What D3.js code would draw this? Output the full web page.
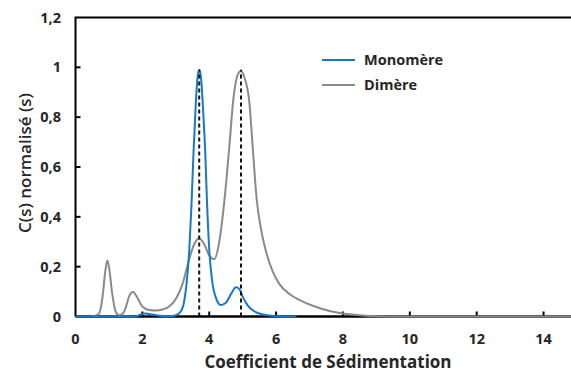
<!DOCTYPE html>
<html><head><meta charset="utf-8">
<script src="https://cdn.jsdelivr.net/npm/d3@7"></script>
<style>body{margin:0;background:#fff}svg{display:block}text{font-family:"Open Sans","Liberation Sans",sans-serif;font-weight:bold;fill:#262626}</style>
</head><body><svg id="c" width="571" height="374"></svg>
<script>
const xTicks = [0,2,4,6,8,10,12,14];
const yTicks = [0,0.2,0.4,0.6,0.8,1,1.2];
const yTickLabels = ["0","0,2","0,4","0,6","0,8","1","1,2"];
const seriesNames = ["Monomère","Dimère"];
const monoS = [0,1.8,1.95,2.1,2.3,2.5,2.8,3.0,3.15,3.25,3.32,3.4,3.47,3.53,3.6,3.66,3.71,3.76,3.82,3.88,3.93,4.0,4.08,4.2,4.35,4.5,4.65,4.8,4.9,5.0,5.15,5.3,5.5,5.8,6.2,6.6];
const monoC = [0,0,0.008,0.012,0.008,0.003,0.001,0.005,0.02,0.06,0.13,0.26,0.45,0.66,0.86,0.97,0.99,0.95,0.82,0.66,0.47,0.27,0.15,0.075,0.046,0.055,0.09,0.117,0.11,0.08,0.045,0.025,0.012,0.004,0.0,0.0];
const dimS = [0.5,0.7,0.8,0.9,0.95,1.0,1.1,1.2,1.3,1.4,1.5,1.6,1.72,1.85,2.0,2.2,2.4,2.6,2.8,3.0,3.2,3.4,3.55,3.7,3.85,4.0,4.15,4.3,4.45,4.6,4.72,4.85,4.95,5.05,5.2,5.3,5.42,5.55,5.7,5.9,6.1,6.4,6.8,7.2,7.6,8.0,8.5,9.0,9.5,15];
const dimC = [0,0.01,0.07,0.19,0.225,0.2,0.09,0.02,0.005,0.01,0.035,0.08,0.098,0.075,0.04,0.026,0.024,0.028,0.04,0.07,0.13,0.23,0.29,0.313,0.29,0.245,0.23,0.3,0.46,0.68,0.87,0.97,0.985,0.96,0.86,0.68,0.47,0.35,0.26,0.18,0.13,0.09,0.06,0.038,0.022,0.012,0.005,0.001,0,0];
const refLines = [3.7, 4.95];
const refVal = 0.99;

const svg = d3.select("#c");
const x = d3.scaleLinear().domain([0,15]).range([75.5,577]);
const y = d3.scaleLinear().domain([0,1.2]).range([316.5,17.5]);

svg.append("path").attr("d",`M${x(0)},${y(0)}V${y(1.2)}H571`).attr("fill","none").attr("stroke","#000").attr("stroke-width",2);
svg.append("line").attr("x1",x(0)).attr("x2",571).attr("y1",y(0)).attr("y2",y(0)).attr("stroke","#000").attr("stroke-width",2.5);

svg.selectAll(".yt").data(yTicks.slice(1,-1)).enter().append("line")
  .attr("x1",x(0)).attr("x2",x(0)+5).attr("y1",d=>y(d)).attr("y2",d=>y(d)).attr("stroke","#000").attr("stroke-width",2);
svg.selectAll(".xt").data(xTicks.slice(1)).enter().append("line")
  .attr("x1",d=>x(d)).attr("x2",d=>x(d)).attr("y1",y(0)).attr("y2",y(0)-5).attr("stroke","#000").attr("stroke-width",2);

svg.selectAll(".yl").data(yTicks).enter().append("text")
  .attr("x",61).attr("y",d=>y(d)+5).attr("text-anchor","end").attr("font-size",14.5).text((d,i)=>yTickLabels[i]);
svg.selectAll(".xl").data(xTicks).enter().append("text")
  .attr("x",d=>x(d)).attr("y",344).attr("text-anchor","middle").attr("font-size",14.5).text(d=>d);

svg.append("text").attr("x",328).attr("y",368).attr("text-anchor","middle").attr("font-size",17).text("Coefficient de Sédimentation");
svg.append("text").attr("transform","translate(31,163) rotate(-90)").attr("text-anchor","middle").attr("font-size",17).style("font-weight","600").text("C(s) normalisé (s)");

const line = d3.line().x(d=>x(d[0])).y(d=>y(d[1])).curve(d3.curveMonotoneX);
svg.append("path").datum(dimS.map((s,i)=>[s,dimC[i]])).attr("d",line).attr("fill","none").attr("stroke","#8a8a8a").attr("stroke-width",2);
svg.append("path").datum(monoS.map((s,i)=>[s,monoC[i]])).attr("d",line).attr("fill","none").attr("stroke","#1878c8").attr("stroke-width",2);

svg.selectAll(".rl").data(refLines).enter().append("line")
  .attr("x1",d=>x(d)).attr("x2",d=>x(d)).attr("y1",y(0)).attr("y2",y(refVal))
  .attr("stroke","#111").attr("stroke-width",2).attr("stroke-dasharray","4,3");

const leg = [{n:seriesNames[0],c:"#1878c8",y:60},{n:seriesNames[1],c:"#8a8a8a",y:85}];
leg.forEach(l=>{
  svg.append("line").attr("x1",322).attr("x2",355).attr("y1",l.y).attr("y2",l.y).attr("stroke",l.c).attr("stroke-width",2);
  svg.append("text").attr("x",364).attr("y",l.y+5).attr("font-size",14.5).text(l.n);
});
</script></body></html>
